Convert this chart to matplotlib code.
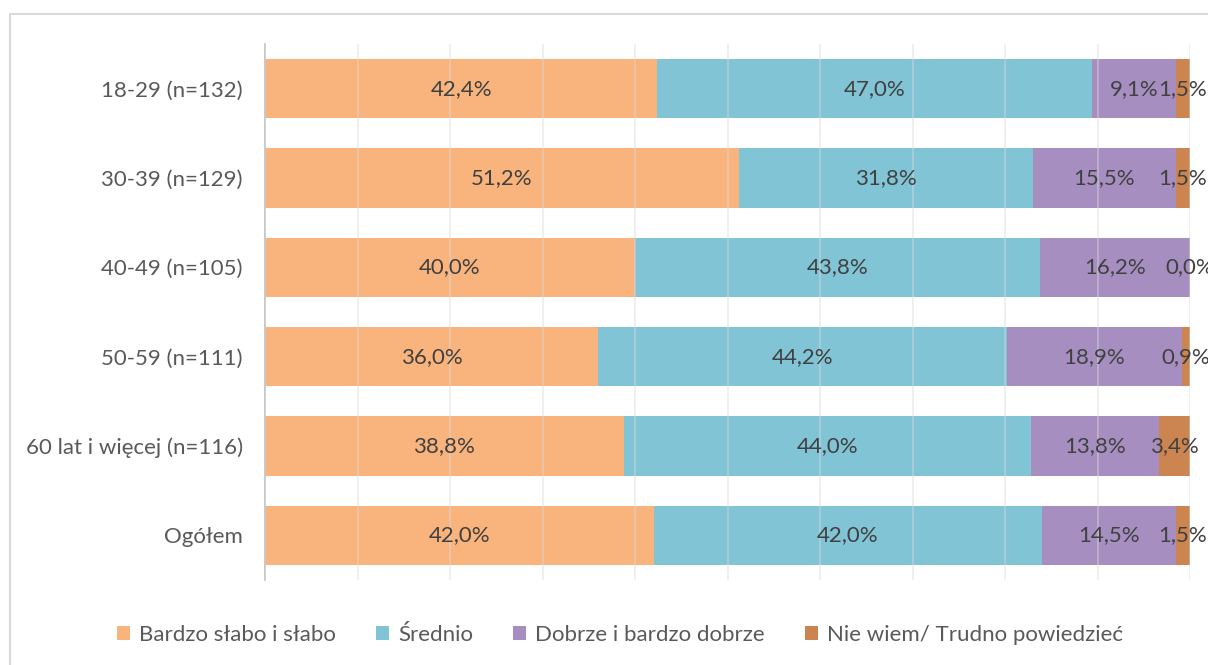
import numpy as np
import matplotlib.pyplot as plt
from matplotlib.patches import Rectangle

plt.rcParams['font.family'] = ['Lato', 'DejaVu Sans']

groups = ['18-29 (n=132)', '30-39 (n=129)', '40-49 (n=105)', '50-59 (n=111)',
          '60 lat i więcej (n=116)', 'Ogółem']
series = ['Bardzo słabo i słabo', 'Średnio', 'Dobrze i bardzo dobrze', 'Nie wiem/ Trudno powiedzieć']
slabo = [42.4, 51.2, 40.0, 36.0, 38.8, 42.0]
srednio = [47.0, 31.8, 43.8, 44.2, 44.0, 42.0]
dobrze = [9.1, 15.5, 16.2, 18.9, 13.8, 14.5]
nie_wiem = [1.5, 1.5, 0.0, 0.9, 3.4, 1.5]
colors = ['#F8B47C', '#80C4D6', '#A68FC0', '#CC8550']

fig = plt.figure(figsize=(12.08, 6.65), dpi=100)
fig.patches.append(Rectangle((10 / 1208, -0.1), 1.2, 1 - 14 / 665 + 0.1, transform=fig.transFigure,
                             fill=False, edgecolor='#D9D9D9', linewidth=1.5))
ax = fig.add_axes([265 / 1208, 1 - 580 / 665, 925 / 1208, 536 / 665])

y = np.arange(len(groups))
left = np.zeros(len(groups))
for name, vals, col in zip(series, [slabo, srednio, dobrze, nie_wiem], colors):
    vals = np.array(vals)
    ax.barh(y, vals, left=left, height=0.667, color=col, label=name, zorder=2)
    for yi, l, v in zip(y, left, vals):
        ax.text(l + v / 2, yi, f'{v:.1f}%'.replace('.', ','), ha='center', va='center',
                fontsize=16, color='#404040', zorder=4)
    left += vals

ax.set_xlim(0, 100)
ax.set_ylim(len(groups) - 0.5, -0.5)
ax.set_xticks(np.arange(0, 101, 10))
ax.set_xticklabels([])
ax.tick_params(axis='x', length=0)
ax.tick_params(axis='y', length=0, labelsize=16, labelcolor='#595959', pad=16)
ax.set_yticks(y)
ax.set_yticklabels(groups)
ax.grid(axis='x', color='#D9D9D9', linewidth=1.2, alpha=0.5, zorder=3)
ax.set_axisbelow(False)
for s in ['top', 'right', 'bottom']:
    ax.spines[s].set_visible(False)
ax.spines['left'].set_color('#BFBFBF')
ax.spines['left'].set_linewidth(1.2)

fig.legend(loc='center', bbox_to_anchor=(620 / 1208, 1 - 635 / 665), ncol=4, frameon=False,
           fontsize=16, labelcolor='#595959', handlelength=0.6, handleheight=0.6,
           handletextpad=0.4, columnspacing=1.8)

fig.savefig('out.png', dpi=100)
